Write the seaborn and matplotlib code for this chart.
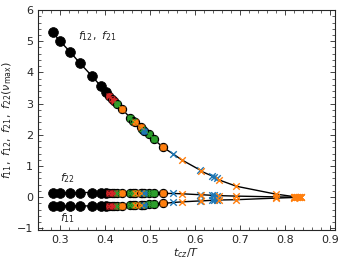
import pandas as pd
import matplotlib
matplotlib.use('Agg')
import matplotlib.pyplot as plt
import seaborn as sns

# point groups: x = t_cz/T, values of f12 (upper), f22 (mid), f11 (lower)
black_x = [0.283, 0.298, 0.322, 0.343, 0.369, 0.389, 0.401]
black_f12 = [5.28, 5.02, 4.65, 4.30, 3.90, 3.57, 3.37]
black_f22 = [0.15, 0.15, 0.15, 0.15, 0.15, 0.15, 0.15]
black_f11 = [-0.28, -0.28, -0.28, -0.28, -0.28, -0.28, -0.28]

red_x = [0.408, 0.414, 0.418]
red_f12 = [3.25, 3.15, 3.08]
red_f22 = [0.15, 0.15, 0.15]
red_f11 = [-0.28, -0.28, -0.28]

green_x = [0.426, 0.455, 0.462, 0.482, 0.496, 0.507]
green_f12 = [2.98, 2.55, 2.45, 2.18, 2.02, 1.86]
green_f22 = [0.15, 0.14, 0.14, 0.14, 0.13, 0.13]
green_f11 = [-0.27, -0.26, -0.25, -0.24, -0.23, -0.22]

orange_x = [0.437, 0.466, 0.478, 0.528]
orange_f12 = [2.82, 2.40, 2.25, 1.60]
orange_f22 = [0.15, 0.14, 0.14, 0.12]
orange_f11 = [-0.27, -0.25, -0.24, -0.20]

blue_x = [0.486]
blue_f12 = [2.13]
blue_f22 = [0.14]
blue_f11 = [-0.24]

bluex_x = [0.551, 0.609, 0.637, 0.642, 0.647]
bluex_f12 = [1.38, 0.88, 0.68, 0.64, 0.60]
bluex_f22 = [0.12, 0.08, 0.06, 0.055, 0.05]
bluex_f11 = [-0.17, -0.12, -0.10, -0.10, -0.10]

orangex_x = [0.569, 0.613, 0.653, 0.691, 0.778, 0.818, 0.822, 0.826, 0.830, 0.834]
orangex_f12 = [1.20, 0.83, 0.55, 0.35, 0.10, 0.02, 0.015, 0.01, 0.005, 0.0]
orangex_f22 = [0.11, 0.08, 0.05, 0.035, 0.01, 0.0, 0.0, 0.0, 0.0, 0.0]
orangex_f11 = [-0.15, -0.12, -0.09, -0.08, -0.03, -0.01, -0.005, 0.0, 0.0, 0.0]

groups = {
    'black': (black_x, black_f12, black_f22, black_f11),
    'red': (red_x, red_f12, red_f22, red_f11),
    'green': (green_x, green_f12, green_f22, green_f11),
    'orange': (orange_x, orange_f12, orange_f22, orange_f11),
    'blue': (blue_x, blue_f12, blue_f22, blue_f11),
    'bluex': (bluex_x, bluex_f12, bluex_f22, bluex_f11),
    'orangex': (orangex_x, orangex_f12, orangex_f22, orangex_f11),
}

rows = []
for name, (xs, a, b, c) in groups.items():
    for i in range(len(xs)):
        rows.append({'group': name, 'x': xs[i], 'f12': a[i], 'f22': b[i], 'f11': c[i]})
df = pd.DataFrame(rows).sort_values('x')

sns.set_style('ticks')
plt.rcParams['font.family'] = ['DejaVu Sans']
plt.rcParams['mathtext.fontset'] = 'dejavusans'

fig = plt.figure(figsize=(3.45, 2.64), dpi=100)
ax = fig.add_axes([0.11, 0.129, 0.861, 0.833])

for col in ['f12', 'f22', 'f11']:
    sns.lineplot(data=df, x='x', y=col, color='k', lw=1.0, estimator=None,
                 sort=True, ax=ax, zorder=1)

face = {'red': '#d62728', 'green': '#2ca02c', 'orange': '#ff7f0e', 'blue': '#1f77b4'}

for col in ['f12', 'f22', 'f11']:
    d = df[df.group == 'black']
    sns.scatterplot(data=d, x='x', y=col, color='k', s=50, edgecolor='k',
                    linewidth=0.5, ax=ax, zorder=3, legend=False)
    for g, c in face.items():
        d = df[df.group == g]
        sns.scatterplot(data=d, x='x', y=col, color=c, s=34, edgecolor='k',
                        linewidth=0.9, ax=ax, zorder=3, legend=False)
        sns.scatterplot(data=d, x='x', y=col, color=c, marker='x', s=18,
                        linewidth=0.9, ax=ax, zorder=4, legend=False)
    d = df[df.group == 'bluex']
    sns.scatterplot(data=d, x='x', y=col, color='#1f77b4', marker='x', s=22,
                    linewidth=1.0, ax=ax, zorder=3, legend=False)
    d = df[df.group == 'orangex']
    sns.scatterplot(data=d, x='x', y=col, color='#ff7f0e', marker='x', s=22,
                    linewidth=1.0, ax=ax, zorder=3, legend=False)

ax.text(0.34, 5.15, r'$f_{12},\ f_{21}$', fontsize=8, va='center')
ax.text(0.298, 0.6, r'$f_{22}$', fontsize=8, va='center')
ax.text(0.298, -0.68, r'$f_{11}$', fontsize=8, va='center')

ax.set_xlim(0.25, 0.91)
ax.set_ylim(-1.05, 6)
ax.set_xticks([0.3, 0.4, 0.5, 0.6, 0.7, 0.8, 0.9])
ax.set_yticks([-1, 0, 1, 2, 3, 4, 5, 6])
ax.minorticks_on()
ax.tick_params(which='both', direction='in', top=True, right=True, labelsize=8)
ax.tick_params(which='major', length=3.5, width=0.6)
ax.tick_params(which='minor', length=2, width=0.5)
for s in ax.spines.values():
    s.set_linewidth(0.8)

ax.set_xlabel(r'$t_{cz}/T$', fontsize=8, labelpad=1)
ax.set_ylabel(r'$f_{11},\ f_{12},\ f_{21},\ f_{22}(\nu_{\rm max})$', fontsize=8, labelpad=2)

fig.savefig('out.png', dpi=100)
